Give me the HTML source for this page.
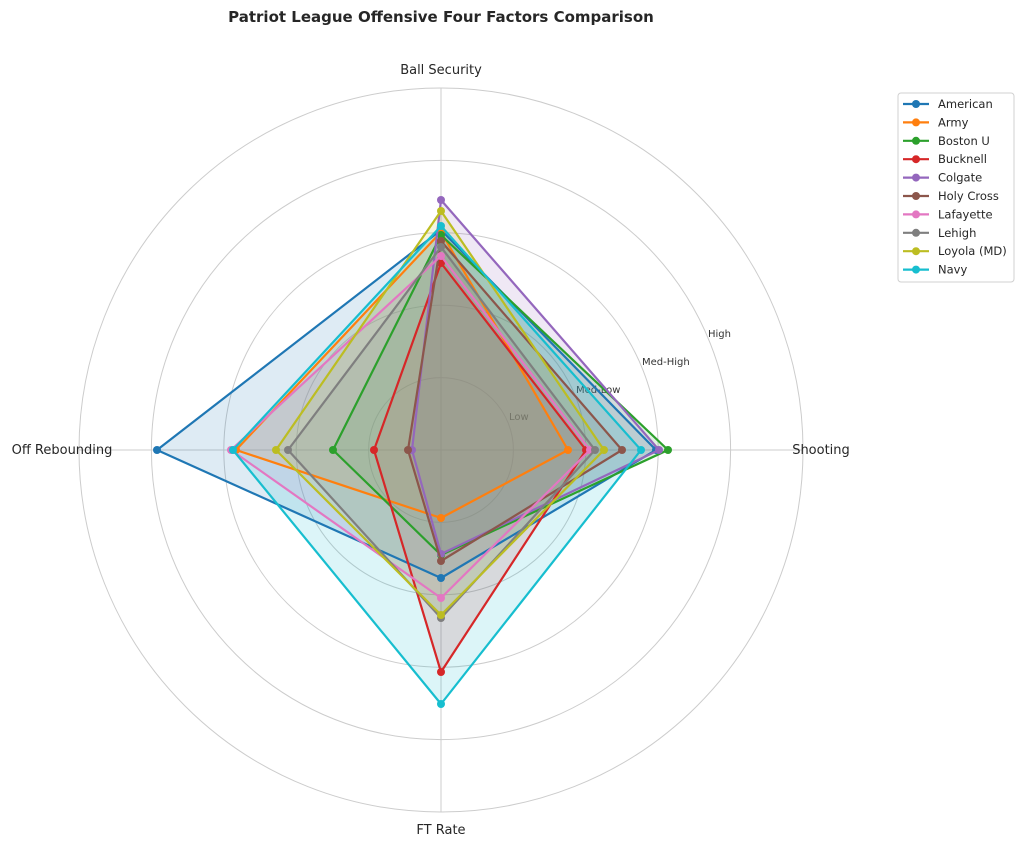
<!DOCTYPE html>
<html><head><meta charset="utf-8"><style>
body{margin:0;background:#fff;font-family:"DejaVu Sans","Liberation Sans",sans-serif;}
</style></head><body>
<svg width="1024" height="846" viewBox="0 0 1024 846" xmlns="http://www.w3.org/2000/svg" font-family="DejaVu Sans, Liberation Sans, sans-serif">
<rect width="1024" height="846" fill="#fff"/>
<text x="441" y="22" text-anchor="middle" font-size="15" font-weight="bold" fill="#262626">Patriot League Offensive Four Factors Comparison</text>
<g fill="none" stroke="#cccccc" stroke-width="1">
<circle cx="441" cy="450" r="72.4"/><circle cx="441" cy="450" r="144.8"/><circle cx="441" cy="450" r="217.2"/><circle cx="441" cy="450" r="289.6"/><circle cx="441" cy="450" r="362"/>
<line x1="441" y1="88" x2="441" y2="812"/><line x1="79" y1="450" x2="803" y2="450"/>
</g>
<g font-size="10" fill="#333">
<text x="509" y="420">Low</text><text x="576" y="393">Med-Low</text><text x="642" y="365">Med-High</text><text x="708" y="337">High</text>
</g>
<g font-size="13" fill="#262626" text-anchor="middle">
<text x="441" y="74">Ball Security</text><text x="821" y="454">Shooting</text><text x="441" y="834">FT Rate</text><text x="62" y="454">Off Rebounding</text>
</g>
<g id="f"></g>
<g stroke-width="2.2" stroke-linejoin="round" id="s"></g>
<rect x="898" y="93" width="116" height="189" rx="3" fill="#fff" stroke="#d0d0d0"/>
<g id="lg" font-size="11.5" fill="#262626"></g>
<script>
var d=[["#1f77b4",230,656,578,157],["#ff7f0e",232,568,518,236],["#2ca02c",235,668,555,333],["#d62728",263,586,672,374],["#9467bd",200,659,554,412],["#8c564b",241,622,561,408],["#e377c2",256,590,598,231],["#7f7f7f",247,595,618,288],["#bcbd22",211,604,615,276],["#17becf",226,641,704,233]];
var n=["American","Army","Boston U","Bucknell","Colgate","Holy Cross","Lafayette","Lehigh","Loyola (MD)","Navy"];
var ns="http://www.w3.org/2000/svg",f=document.getElementById("f"),s=document.getElementById("s"),lg=document.getElementById("lg");
function el(t,a,p){var e=document.createElementNS(ns,t);for(var k in a)e.setAttribute(k,a[k]);p.appendChild(e);return e;}
d.forEach(function(r,i){var c=r[0];var pts=[[441,r[1]],[r[2],450],[441,r[3]],[r[4],450]];
var ps=pts.map(function(p){return p.join(",")}).join(" ");
el("polygon",{points:ps,fill:c,"fill-opacity":"0.15",stroke:"none"},f);
el("polygon",{points:ps,fill:"none",stroke:c},s);
pts.forEach(function(p){el("circle",{cx:p[0],cy:p[1],r:4,fill:c},s);});
var y=104+i*18.4;el("line",{x1:903,y1:y,x2:929,y2:y,stroke:c,"stroke-width":2.2},lg);el("circle",{cx:916,cy:y,r:4,fill:c},lg);
var t=el("text",{x:938,y:y+4},lg);t.textContent=n[i];});
</script>
</svg>
</body></html>
